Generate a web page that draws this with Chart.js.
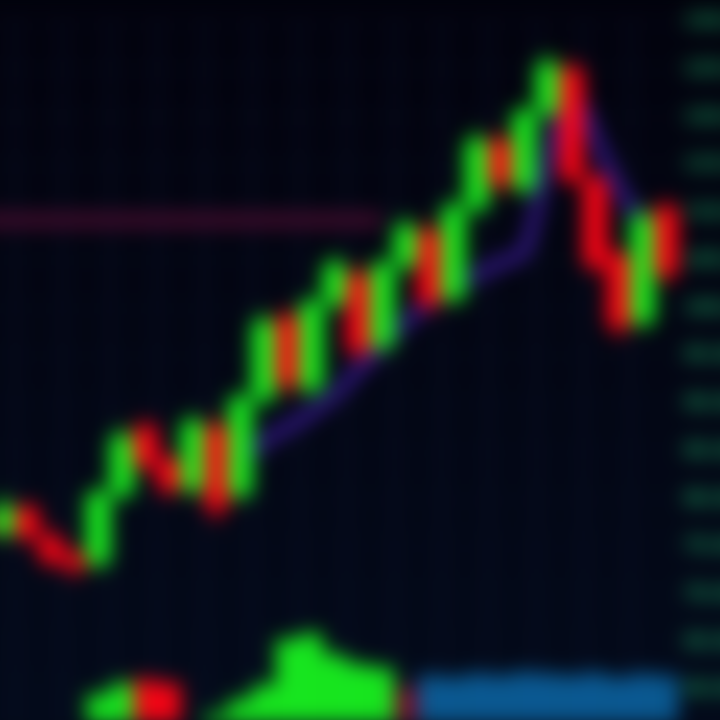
<!DOCTYPE html>
<html>
<head>
<meta charset="utf-8">
<script src="https://cdn.jsdelivr.net/npm/chart.js@4.4.1/dist/chart.umd.min.js"></script>
<style>
  html, body { margin: 0; padding: 0; background: #02030c; overflow: hidden; width: 720px; height: 720px; }
  #wrap { position: absolute; left: -32px; top: 0; width: 800px; height: 740px; filter: blur(10px); }
</style>
</head>
<body>
<div id="wrap"><canvas id="c"></canvas></div>
<script>
// ---- data ----
const labels = ["0","1","2","3","4","5","6","7","8","9","10","11","12","13","14","15","16","17","18","19","20","21","22","23","24","25","26","27","28","29"];
const openP  = [78.0,76.5,79.0,76.0,74.2,73.3,80.5,87.5,84.0,81.0,87.5,80.5,90.5,99.0,91.5,100.5,103.5,96.0,104.5,108.0,101.0,110.5,117.5,112.5,120.5,125.0,113.5,105.5,98.5,110.5];
const closeP = [76.5,79.0,76.0,73.5,72.8,80.5,86.5,83.5,81.0,88.0,79.0,90.5,98.5,92.0,100.5,104.5,95.5,104.5,108.5,100.5,110.5,117.5,113.0,120.5,125.5,113.5,104.5,98.0,109.5,103.5];
const highP  = [78.8,80.2,79.6,76.8,74.8,81.2,87.4,88.2,84.8,88.8,88.4,91.2,99.4,99.8,101.2,105.4,104.2,105.2,109.4,108.8,111.4,118.4,118.2,121.2,126.4,125.8,114.2,106.2,110.4,111.2];
const lowP   = [75.8,75.8,75.4,72.8,71.8,72.6,79.9,82.8,80.2,80.4,77.8,79.8,89.8,91.0,90.8,99.8,94.6,95.4,103.8,99.6,100.4,109.8,112.2,111.8,119.8,112.8,103.6,97.0,97.8,102.6];
const volume = [0,0,0,0,0,30,42,46,42,0,10,25,40,88,94,72,62,58,38,50,48,52,50,54,52,50,53,48,52,50];
const avgLine = [null,null,null,null,null,null,null,null,null,null,80.5,83.5,86.0,87.5,89.0,91.0,93.5,96.0,98.5,100.5,102.0,103.5,104.7,106.0,115.5,123.0,118.0,112.5,109.0,106.5];
const resistance = [109.2,109.2,109.2,109.2,109.2,109.2,109.2,109.2,109.2,109.2,109.2,109.2,109.2,109.2,109.2,109.2,109.2,109.2,null,null,null,null,null,null,null,null,null,null,null,null];
const yTicks = [60,65,70,75,80,85,90,95,100,105,110,115,120,125,130];

// ---- styles ----
const UP = '#18f01e', DOWN = '#ff0414';
const candleColors = openP.map((o, i) => closeP[i] >= o ? UP : DOWN);
const volColors = volume.map((v, i) => {
  if (i === 7 || i === 8) return DOWN;
  if (i === 18) return '#7a0a2a';
  if (i > 18) return '#0a5c96';
  return UP;
});

const bodies = openP.map((o, i) => [o, closeP[i]]);
const wicks = lowP.map((l, i) => [l, highP[i]]);

const bgPlugin = {
  id: 'bg',
  beforeDraw(chart) {
    const { ctx, width, height } = chart;
    const g = ctx.createLinearGradient(0, 0, 0, height);
    g.addColorStop(0, '#02020d');
    g.addColorStop(1, '#030a1a');
    ctx.save();
    ctx.fillStyle = g;
    ctx.fillRect(0, 0, width, height);
    ctx.restore();
  }
};

new Chart(document.getElementById('c'), {
  type: 'bar',
  data: {
    labels,
    datasets: [
      { type: 'line', data: resistance, borderColor: '#420b2c', borderWidth: 15, pointRadius: 0, yAxisID: 'y', order: 10 },
      { type: 'line', data: avgLine, borderColor: '#3a1a96', borderWidth: 11, pointRadius: 0, tension: 0.3, yAxisID: 'y', order: 9 },
      { data: volume, backgroundColor: volColors, yAxisID: 'v', barPercentage: 0.95, categoryPercentage: 1.0, grouped: false, order: 8 },
      { data: wicks, backgroundColor: candleColors, yAxisID: 'y', barThickness: 6, grouped: false, order: 2 },
      { data: bodies, backgroundColor: candleColors, yAxisID: 'y', barPercentage: 1.0, categoryPercentage: 1.0, grouped: false, order: 1 }
    ]
  },
  options: {
    responsive: true,
    maintainAspectRatio: false,
    animation: false,
    layout: { padding: 0 },
    plugins: { legend: { display: false }, tooltip: { enabled: false } },
    scales: {
      x: {
        ticks: { display: false },
        border: { display: false },
        grid: { color: (c) => (c.index % 2 === 0 ? '#0d1430' : 'rgba(0,0,0,0)'), lineWidth: 3, drawTicks: false }
      },
      y: {
        position: 'right',
        min: 56.5, max: 130.5,
        afterBuildTicks: (s) => { s.ticks = yTicks.map(v => ({ value: v })); },
        ticks: { color: '#1cae66', font: { family: 'DejaVu Sans', size: 18, weight: 'bold' }, padding: 6, callback: (v) => v.toFixed(2) },
        border: { display: false },
        grid: { color: '#080d1e', lineWidth: 2, drawTicks: false },
        afterFit: (s) => { s.width = 90; }
      },
      v: {
        display: false,
        min: 0, max: 740
      }
    }
  },
  plugins: [bgPlugin]
});
</script>
</body>
</html>
